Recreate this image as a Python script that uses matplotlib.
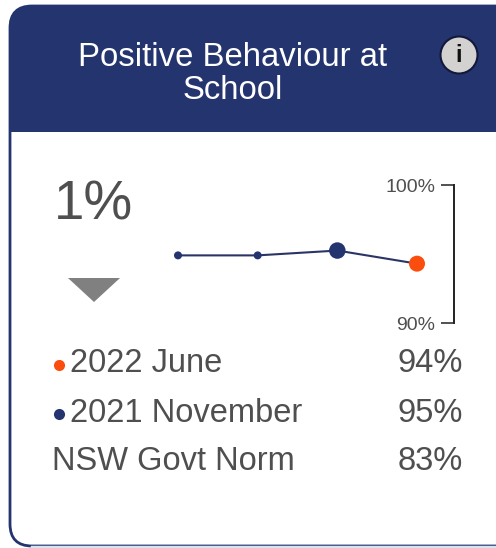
import matplotlib
matplotlib.use('Agg')
import matplotlib.pyplot as plt
from matplotlib.patches import FancyBboxPatch, Rectangle, Circle, Polygon

plt.rcParams['font.family'] = ['Liberation Sans', 'DejaVu Sans']

W, H = 496, 548
NAVY = '#24346f'
ORANGE = '#fb4d0e'
GREY = '#4f4f4f'

title = 'Positive Behaviour at\nSchool'
change = '1%'
periods = ['p1', 'p2', '2021 November', '2022 June']
values = [94.9, 94.9, 95.25, 94.3]
sizes = [8, 8, 16.5, 16]
colors = [NAVY, NAVY, NAVY, ORANGE]
y_ticks = [90, 100]
y_labels = ['90%', '100%']
legend_labels = ['2022 June', '2021 November', 'NSW Govt Norm']
legend_values = ['94%', '95%', '83%']
legend_colors = [ORANGE, NAVY, None]

fig = plt.figure(figsize=(W / 100, H / 100), dpi=100)

# fond en pixels, y vers le bas comme sur l'image
bg = fig.add_axes([0, 0, 1, 1])
bg.set_xlim(0, W)
bg.set_ylim(H, 0)
bg.axis('off')

r = 22
card = FancyBboxPatch((10 + r, 6 + r), 560 - 2 * r, 540 - 2 * r,
                      boxstyle=f'round,pad={r},rounding_size={r}',
                      fc='white', ec=NAVY, lw=2.0)
bg.add_patch(card)
header = FancyBboxPatch((9 + r, 6 + r), 560 - 2 * r, 300,
                        boxstyle=f'round,pad={r},rounding_size={r}',
                        fc=NAVY, ec='none')
bg.add_patch(header)
header.set_clip_path(Rectangle((0, 0), W, 132, transform=bg.transData))
bg.plot([32, W], [546.5, 546.5], color='#d5e3f2', lw=2.5, zorder=3)

bg.text(233, 74, title, color='white', fontsize=23.7, ha='center', va='center',
        linespacing=1.06)

# icone info
bg.add_patch(Circle((459, 55), 18.5, fc='#d4d2d0', ec='#11183a', lw=1.5, zorder=4))
bg.text(459, 56, 'i', color='#111111', fontsize=17, fontweight='bold',
        ha='center', va='center', zorder=5)

# variation
bg.text(93.5, 206, change, color=GREY, fontsize=39.5, ha='center', va='center')
bg.add_patch(Polygon([(68, 278), (120, 278), (94, 302)], fc='#808080', ec='none'))

# legende
rows_y = [364, 413, 462]
for yy, lab, val, col in zip(rows_y, legend_labels, legend_values, legend_colors):
    bg.text(70 if col else 52, yy, lab, color=GREY, fontsize=23.5, ha='left', va='center')
    bg.text(463, yy, val, color=GREY, fontsize=23.5, ha='right', va='center')
    if col:
        bg.plot([58.5], [yy + 1], 'o', color=col, ms=8, mec='none')

# sparkline
left, right, top, bottom = 178, 454, 185, 323
ax = fig.add_axes([left / W, 1 - bottom / H, (right - left) / W, (bottom - top) / H])
ax.patch.set_alpha(0)
x = list(range(len(values)))
ax.plot(x, values, color='#2a3566', lw=1.5, zorder=2, clip_on=False)
ax.scatter(x, values, s=[(s * 0.72) ** 2 for s in sizes], c=colors, zorder=3,
           clip_on=False, linewidths=0)
ax.set_xlim(0, 3 * (right - left) / (417 - left))
ax.set_ylim(90, 100)
ax.set_xticks([])
ax.set_yticks(y_ticks)
for s in ['top', 'left', 'bottom']:
    ax.spines[s].set_visible(False)
ax.spines['right'].set_color('#222222')
ax.spines['right'].set_linewidth(1.4)
ax.tick_params(axis='y', left=False, labelleft=False, right=True, labelright=False,
               direction='in', length=9.4, width=1.1, color='#222222')
for t, lab in zip(y_ticks, y_labels):
    ax.annotate(lab, xy=(1, t), xycoords=('axes fraction', 'data'), xytext=(-13.5, -1.5),
                textcoords='offset points', ha='right', va='center',
                fontsize=14, color=GREY, annotation_clip=False)

fig.savefig('out.png', dpi=100)
